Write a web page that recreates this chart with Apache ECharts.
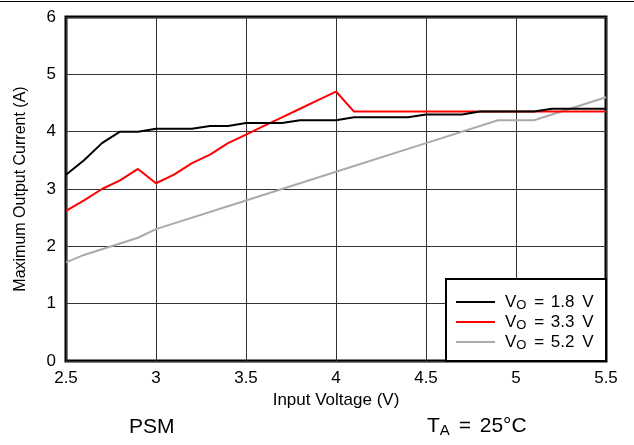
<!DOCTYPE html>
<html><head><meta charset="utf-8">
<script src="https://cdn.jsdelivr.net/npm/echarts@6/dist/echarts.min.js"></script>
<style>html,body{margin:0;padding:0;background:#fff}#c{width:634px;height:445px}</style>
</head><body><div id="c"></div>
<script>
var vin18 = [2.5,2.6,2.7,2.8,2.9,3.0,3.2,3.3,3.4,3.5,3.7,3.8,4.0,4.1,4.4,4.5,4.7,4.8,5.1,5.2,5.5];
var iout18 = [3.25,3.5,3.8,4.0,4.0,4.05,4.05,4.1,4.1,4.15,4.15,4.2,4.2,4.25,4.25,4.3,4.3,4.35,4.35,4.4,4.4];
var vin33 = [2.5,2.6,2.7,2.8,2.9,3.0,3.1,3.2,3.3,3.4,3.5,3.6,3.7,3.8,3.9,4.0,4.1,5.5];
var iout33 = [2.62,2.8,3.0,3.15,3.35,3.1,3.25,3.45,3.6,3.8,3.95,4.1,4.25,4.4,4.55,4.7,4.35,4.35];
var vin52 = [2.5,2.6,2.7,2.8,2.9,3.0,3.5,4.0,4.5,4.9,5.1,5.5];
var iout52 = [1.72,1.85,1.95,2.05,2.15,2.3,2.8,3.3,3.8,4.2,4.2,4.6];
var names = ['VO = 1.8 V','VO = 3.3 V','VO = 5.2 V'];
var legendVals = ['1.8','3.3','5.2'];
var colors = ['#000000','#ff0000','#aaaaaa'];

function pairs(x,y){return x.map(function(v,i){return [v,y[i]];});}
var F = 'Liberation Sans, Arial, sans-serif';
var chart = echarts.init(document.getElementById('c'));
var data = [pairs(vin18,iout18),pairs(vin33,iout33),pairs(vin52,iout52)];
chart.setOption({
  animation:false,
  grid:{left:66,right:28,top:17,bottom:84,show:true,borderColor:'#000',borderWidth:3,backgroundColor:'#fff'},
  xAxis:{type:'value',min:2.5,max:5.5,interval:0.5,
    name:'Input Voltage (V)',nameLocation:'middle',nameGap:31,
    nameTextStyle:{fontFamily:F,fontSize:17,color:'#000'},
    axisLine:{show:false},axisTick:{show:false},
    axisLabel:{margin:9,fontFamily:F,fontSize:17,color:'#000',
      formatter:function(v){return String(v);}},
    splitLine:{show:true,lineStyle:{color:'#333',width:1}}},
  yAxis:{type:'value',min:0,max:6,interval:1,
    name:'Maximum Output Current (A)',nameLocation:'middle',nameGap:37,
    nameTextStyle:{fontFamily:F,fontSize:16,color:'#000'},
    axisLine:{show:false},axisTick:{show:false},
    axisLabel:{margin:10,fontFamily:F,fontSize:17,color:'#000'},
    splitLine:{show:true,lineStyle:{color:'#333',width:1}}},
  legend:{show:true,orient:'vertical',left:456,top:292,padding:0,itemWidth:39,itemHeight:2,itemGap:0,
    icon:'rect',z:20,
    data:names.map(function(n,i){return {name:n,itemStyle:{color:colors[i]}};}),
    formatter:function(n){var i=names.indexOf(n);return '{f|V}{s|O}{m| = }{v|'+legendVals[i]+'}{m| V}';},
    textStyle:{fontFamily:F,fontSize:17,color:'#000',
      rich:{f:{fontFamily:F,fontSize:17,color:'#000',lineHeight:20,padding:[0,0,0,5]},
            v:{fontFamily:F,fontSize:17,color:'#000',lineHeight:20},
            m:{fontFamily:F,fontSize:17,color:'#000',lineHeight:20,padding:[0,2,0,3]},
            s:{fontFamily:F,fontSize:13,color:'#000',padding:[7,0,0,0],lineHeight:20}}}},
  graphic:[
    {type:'line',z:5,shape:{x1:0,y1:1.5,x2:634,y2:1.5},style:{stroke:'#000',lineWidth:1}},
    {type:'rect',z:10,shape:{x:446,y:279,width:160,height:82},style:{fill:'#fff',stroke:'#000',lineWidth:2}},
    {type:'text',z:10,left:129,top:417,style:{text:'PSM',font:'21px '+F,fill:'#000'}},
    {type:'text',z:10,left:427,top:414,style:{text:'{v|T}{s|A}{m| = }{v|25°C}',
      rich:{v:{fontFamily:F,fontSize:21,fill:'#000',lineHeight:24},
            m:{fontFamily:F,fontSize:21,fill:'#000',lineHeight:24,padding:[0,3,0,3]},
            s:{fontFamily:F,fontSize:15,fill:'#000',padding:[9,0,0,0],lineHeight:24}}}}
  ],
  series:data.map(function(d,i){return {name:names[i],type:'line',data:d,symbol:'none',
    z:5-i,lineStyle:{color:colors[i],width:2},itemStyle:{color:colors[i]}};})
});
</script></body></html>
